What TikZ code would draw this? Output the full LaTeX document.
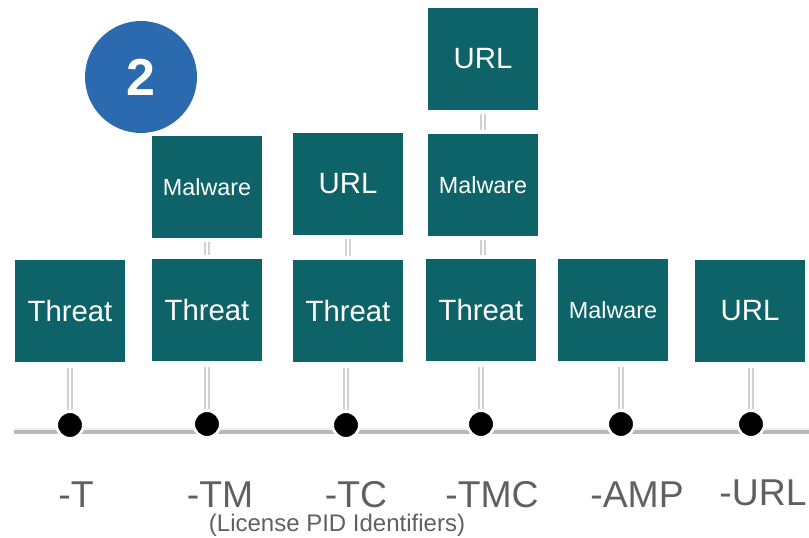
\documentclass[tikz,border=0pt]{standalone}
\usepackage{fontspec}
\setmainfont{Liberation Sans}
\usetikzlibrary{calc}
\definecolor{pidteal}{RGB}{13,99,104}
\definecolor{pidblue}{RGB}{43,106,175}
\definecolor{pidgray}{RGB}{96,96,96}
\tikzset{
  pidbox/.style={fill=pidteal, text=white, minimum width=83pt, minimum height=76pt, inner sep=0pt},
  bigtxt/.style={font=\fontsize{22}{22}\selectfont},
  smalltxt/.style={font=\fontsize{17.5}{17.5}\selectfont},
  pidlink/.style={draw=black!18, line width=1pt, double=white, double distance=2.2pt},
  piddot/.style={circle, fill=black, draw=white, line width=2pt, minimum width=19pt, minimum height=20pt, inner sep=0pt},
  pidlabel/.style={text=pidgray, font=\fontsize{28}{28}\selectfont}
}
\begin{document}
\begin{tikzpicture}[x=0.75pt, y=-0.75pt]
	\useasboundingbox (0,0) rectangle (809,538);
	%%%%% START %%%%%

	% base line
	\coordinate (bl) at (14,430);
	\coordinate (br) at (809,430);
	\draw[line width=3pt, color=black!28] ($(bl)+(0,2)$) -- ($(br)+(0,2)$);
	\draw[line width=1.2pt, color=black!6] ($(bl)+(0,-1)$) -- ($(br)+(0,-1)$);

	% number badge
	\node[circle, fill=pidblue, minimum size=84pt, inner sep=0pt, text=white, font=\bfseries\fontsize{39}{39}\selectfont] (badge) at (141,77) {2};

	% bottom row
	\node[pidbox, bigtxt] (t1) at (70,311) {Threat};
	\node[pidbox, bigtxt] (tm1) at (207,310) {Threat};
	\node[pidbox, bigtxt] (tc1) at (348,311) {Threat};
	\node[pidbox, bigtxt] (tmc1) at (481,310) {Threat};
	\node[pidbox, smalltxt] (amp1) at (613,310) {Malware};
	\node[pidbox, bigtxt] (url1) at (750,311) {URL};

	% second row
	\node[pidbox, smalltxt] (tm2) at (207,187) {Malware};
	\node[pidbox, bigtxt] (tc2) at (348,184) {URL};
	\node[pidbox, smalltxt] (tmc2) at (483,185) {Malware};

	% third row
	\node[pidbox, bigtxt] (tmc3) at (483,59) {URL};

	% dots on the line
	\node[piddot] (d1) at (70,425) {};
	\node[piddot] (d2) at (207,424) {};
	\node[piddot] (d3) at (346,425) {};
	\node[piddot] (d4) at (481,424) {};
	\node[piddot] (d5) at (621,424) {};
	\node[piddot] (d6) at (751,424) {};

	% links
	\draw[pidlink] ($(t1.south -| d1)+(0,6)$) -- (d1.north);
	\draw[pidlink] ($(tm1.south -| d2)+(0,6)$) -- (d2.north);
	\draw[pidlink] ($(tc1.south -| d3)+(0,6)$) -- (d3.north);
	\draw[pidlink] ($(tmc1.south -| d4)+(0,6)$) -- (d4.north);
	\draw[pidlink] ($(amp1.south -| d5)+(0,6)$) -- (d5.north);
	\draw[pidlink] ($(url1.south -| d6)+(0,6)$) -- (d6.north);
	\draw[pidlink] ($(tm2.south)+(0,4)$) -- ($(tm1.north)+(0,-4)$);
	\draw[pidlink] ($(tc2.south)+(0,4)$) -- ($(tc1.north)+(0,-4)$);
	\draw[pidlink] ($(tmc2.south)+(0,4)$) -- ($(tmc1.north -| tmc2)+(0,-4)$);
	\draw[pidlink] ($(tmc3.south)+(0,4)$) -- ($(tmc2.north)+(0,-4)$);

	% identifiers
	\node[pidlabel] (lt) at (76,495) {-T};
	\node[pidlabel] (ltm) at (220,495) {-TM};
	\node[pidlabel] (ltc) at (356,495) {-TC};
	\node[pidlabel] (ltmc) at (492,495) {-TMC};
	\node[pidlabel] (lamp) at (637,495) {-AMP};
	\node[pidlabel] (lurl) at (763,493) {-URL};
	\node[text=pidgray, font=\fontsize{18}{18}\selectfont] (note) at (337,525) {(License PID Identifiers)};

	%%%%% END %%%%%
\end{tikzpicture}
\end{document}
